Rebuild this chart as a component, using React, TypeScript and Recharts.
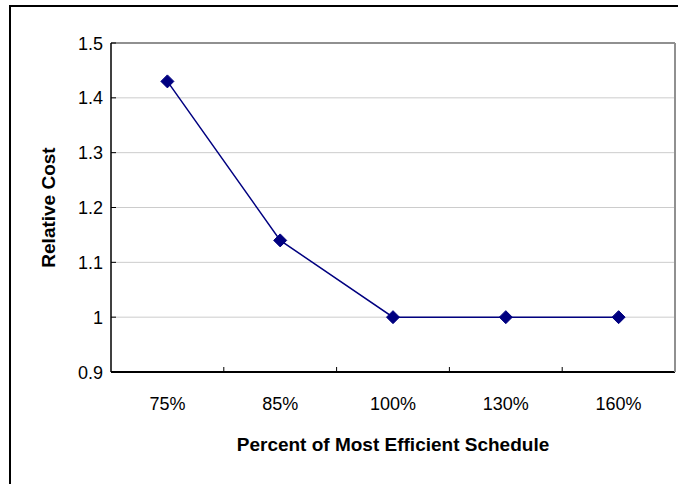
import React from 'react';
import { LineChart, Line, XAxis, YAxis, CartesianGrid, Label } from 'recharts';

const categories = ['75%', '85%', '100%', '130%', '160%'];
const relativeCost = [1.43, 1.14, 1.0, 1.0, 1.0];
const yTicks = [0.9, 1, 1.1, 1.2, 1.3, 1.4, 1.5];

const data = categories.map((c, i) => ({ schedule: c, cost: relativeCost[i] }));

const FONT = '"Liberation Sans", Arial, sans-serif';

const XTick = (props: any) => {
  const { x, y, payload, index } = props;
  const half = payload?.offset ?? 0;
  return (
    <g>
      {index < categories.length - 1 && (
        <line x1={x + half} x2={x + half} y1={y} y2={y - 5} stroke="#000" strokeWidth={1} />
      )}
      <text x={x} y={y + 38} textAnchor="middle" fontSize={18} fontFamily={FONT} fill="#000">
        {payload.value}
      </text>
    </g>
  );
};

const YTick = (props: any) => {
  const { x, y, payload } = props;
  return (
    <g>
      <line x1={x} x2={x + 5} y1={y} y2={y} stroke="#000" strokeWidth={1} />
      <text x={x - 8} y={y + 6.5} textAnchor="end" fontSize={18} fontFamily={FONT} fill="#000">
        {String(payload.value)}
      </text>
    </g>
  );
};

const Diamond = (props: any) => {
  const { cx, cy } = props;
  if (cx == null || cy == null) return null;
  const r = 6.5;
  return (
    <path
      d={`M${cx},${cy - r}L${cx + r},${cy}L${cx},${cy + r}L${cx - r},${cy}Z`}
      fill="#000080"
      stroke="#000080"
    />
  );
};

const yTitle = (p: any) => {
  const vb = p.viewBox;
  const cx = vb.x + 48;
  const cy = vb.y + vb.height / 2;
  return (
    <text
      x={cx}
      y={cy}
      transform={`rotate(-90, ${cx}, ${cy})`}
      textAnchor="middle"
      dominantBaseline="central"
      fontSize={19}
      fontWeight="bold"
      fontFamily={FONT}
      fill="#000"
    >
      Relative Cost
    </text>
  );
};

const xTitle = (p: any) => {
  const vb = p.viewBox;
  return (
    <text
      x={vb.x + vb.width / 2}
      y={vb.y + 79}
      textAnchor="middle"
      fontSize={19}
      fontWeight="bold"
      fontFamily={FONT}
      fill="#000"
    >
      Percent of Most Efficient Schedule
    </text>
  );
};

export default function App() {
  return (
    <div
      style={{
        position: 'absolute',
        left: 0,
        top: 0,
        width: 678,
        height: 484,
        overflow: 'hidden',
        background: '#fff',
      }}
    >
      <div
        style={{
          position: 'absolute',
          left: 9,
          top: 5,
          width: 700,
          height: 600,
          border: '2px solid #000',
        }}
      />
      <div style={{ position: 'absolute', left: 0, top: 0 }}>
        <LineChart
          width={678}
          height={484}
          data={data}
          margin={{ top: 41, right: 1, bottom: 0, left: 0 }}
        >
          <CartesianGrid vertical={false} stroke="#cccccc" />
          <XAxis
            dataKey="schedule"
            scale="band"
            height={112}
            tickLine={false}
            tickSize={0}
            tickMargin={0}
            tick={<XTick />}
            axisLine={{ stroke: '#000', strokeWidth: 2 }}
            interval={0}
          >
            <Label content={xTitle} />
          </XAxis>
          <XAxis
            xAxisId="top"
            dataKey="schedule"
            orientation="top"
            height={2}
            tick={false}
            tickLine={false}
            axisLine={{ stroke: '#909090', strokeWidth: 2 }}
          />
          <YAxis
            domain={[0.9, 1.5]}
            ticks={yTicks}
            width={111}
            tickLine={false}
            tickSize={0}
            tickMargin={0}
            tick={<YTick />}
            axisLine={{ stroke: '#000', strokeWidth: 1.5 }}
            interval={0}
          >
            <Label content={yTitle} />
          </YAxis>
          <YAxis
            yAxisId="right"
            orientation="right"
            domain={[0.9, 1.5]}
            width={2}
            tick={false}
            tickLine={false}
            axisLine={{ stroke: '#909090', strokeWidth: 2 }}
          />
          <Line
            dataKey="cost"
            stroke="#000080"
            strokeWidth={1.5}
            dot={<Diamond />}
            activeDot={false}
            isAnimationActive={false}
          />
        </LineChart>
      </div>
    </div>
  );
}
